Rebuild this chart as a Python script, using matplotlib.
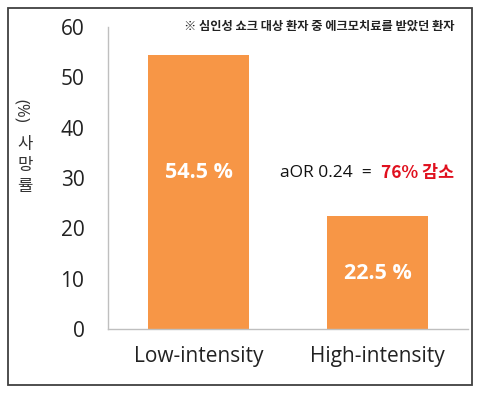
import matplotlib
matplotlib.use("Agg")
import matplotlib.pyplot as plt
from matplotlib.patches import Rectangle

categories = ["Low-intensity", "High-intensity"]
mortality = [54.5, 22.5]
bar_labels = ["54.5 %", "22.5 %"]
y_ticks = [0, 10, 20, 30, 40, 50, 60]
note = "※ 심인성 쇼크 대상 환자 중 에크모치료를 받았던 환자"
aor_text = "aOR 0.24  =  "
aor_red = "76% 감소"

plt.rcParams['font.family'] = ['Open Sans', 'Noto Sans CJK KR', 'DejaVu Sans']

fig = plt.figure(figsize=(4.8, 3.96), dpi=100)
ax = fig.add_axes([108/480, 1 - 329/396, 360/480, 302/396])

x = list(range(len(categories)))
ax.bar(x, mortality, width=0.564, color="#F79646", zorder=2)
ax.set_xlim(-0.506, 1.506)
ax.set_ylim(0, 60)
ax.set_yticks(y_ticks)
ax.set_yticklabels([str(t) for t in y_ticks], fontsize=15, color="#222222")
ax.set_xticks(x)
ax.set_xticklabels(categories, fontsize=15, color="#222222")
ax.tick_params(axis='y', length=0, pad=17)
ax.tick_params(axis='x', length=0, pad=12)
for s in ["top", "right"]:
    ax.spines[s].set_visible(False)
for s in ["left", "bottom"]:
    ax.spines[s].set_color("#BFBFBF")
    ax.spines[s].set_linewidth(1.0)

label_frac = [0.57, 0.49]
for xi, v, lab, f in zip(x, mortality, bar_labels, label_frac):
    ax.text(xi, v * f, lab, ha="center", va="center", color="white",
            fontsize=15.5, fontweight="bold", zorder=3)

# annotation
t1 = fig.text(280/480, 1 - 173/396, aor_text, fontsize=12.5, color="#111111",
              ha="left", va="center", family=['Open Sans', 'Noto Sans CJK KR'])
fig.canvas.draw()
bb = t1.get_window_extent()
fig.text(bb.x1 / fig.bbox.width, 1 - 173/396, aor_red, fontsize=12.5, color="#E0101E",
         fontweight="bold", ha="left", va="center",
         family=['Noto Sans CJK KR', 'Open Sans'])

# note
fig.text(455/480, 1 - 26/396, note, fontsize=8.8, fontweight="bold",
         color="#222222", ha="right", va="center", family=['Noto Sans CJK KR'])

# y label: stacked
fig.text(21/480, 1 - 111/396, "(%)", rotation=270, fontsize=12, color="#333333",
         ha="center", va="center", rotation_mode="anchor")
for ch, yy in zip("사망률", [145, 166, 187]):
    fig.text(25/480, 1 - yy/396, ch, fontsize=12, color="#333333",
             ha="center", va="center", family=['Noto Sans CJK KR'])

# border
fig.patches.append(Rectangle((8/480, 1 - 385/396), 464/480, 377/396,
                             transform=fig.transFigure, fill=False,
                             edgecolor="#404040", linewidth=1.3))

fig.savefig("out.png", dpi=100)
